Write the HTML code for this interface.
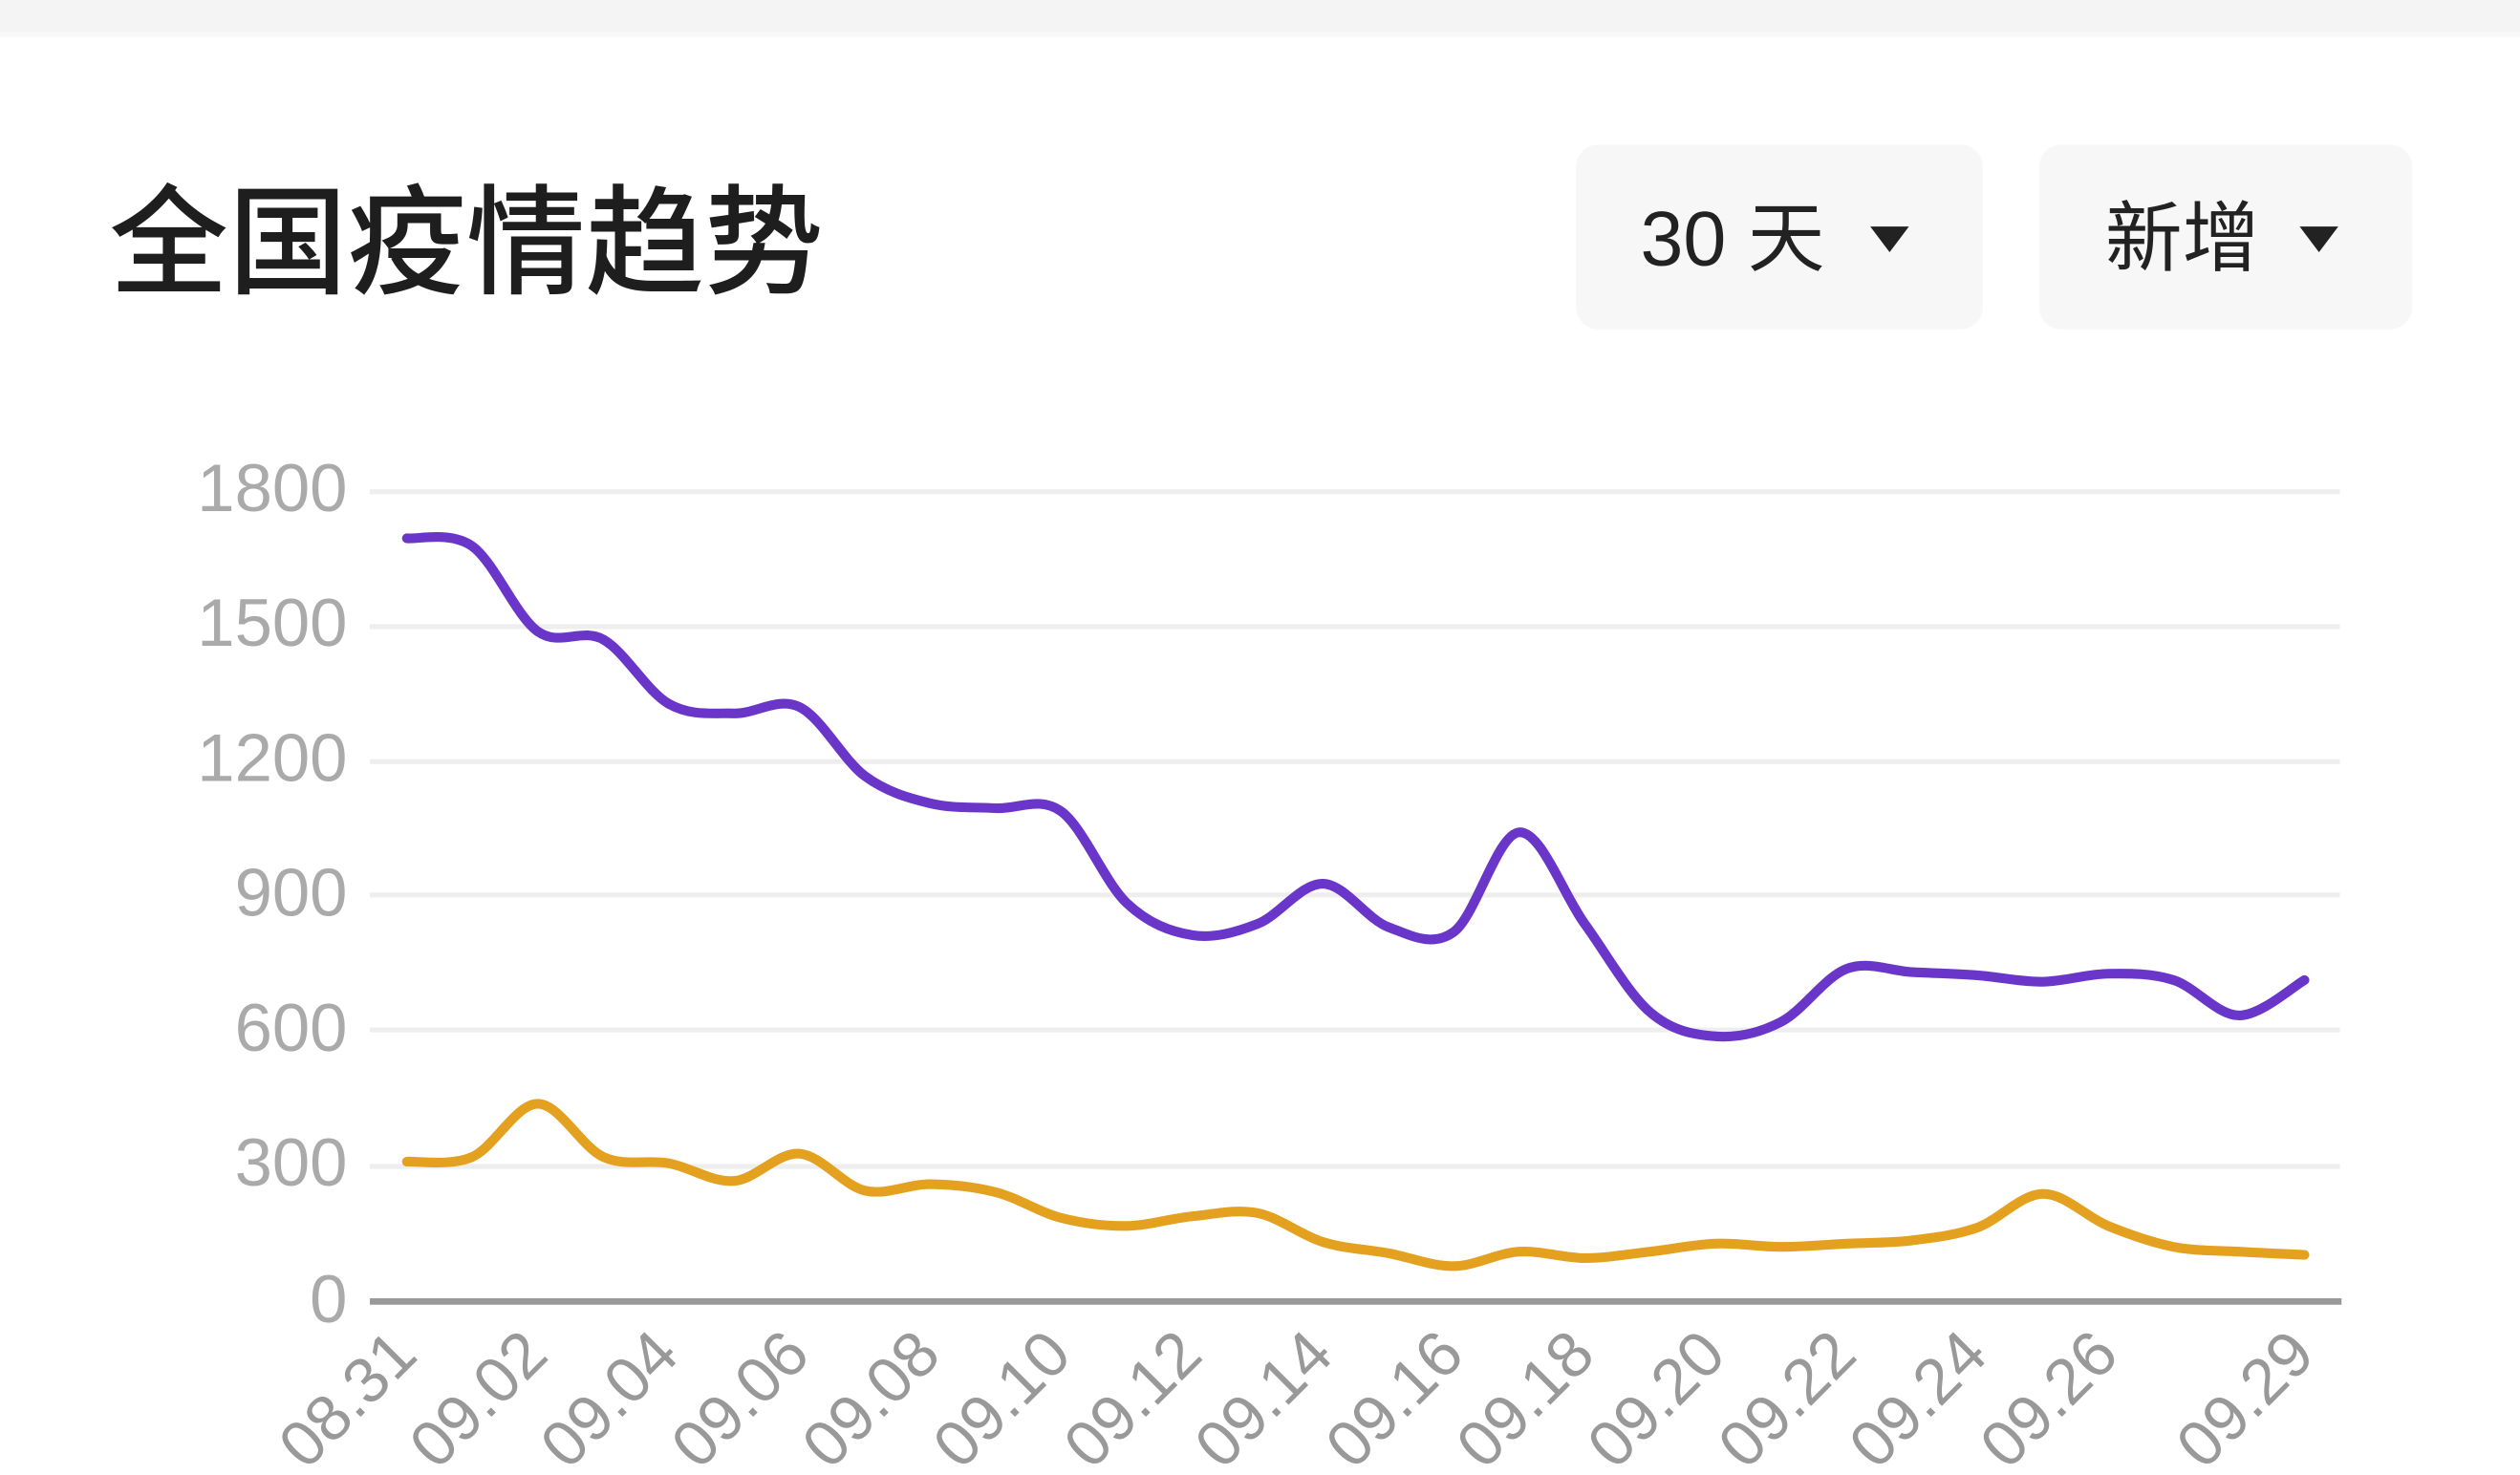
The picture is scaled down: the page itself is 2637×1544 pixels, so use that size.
<!DOCTYPE html>
<html><head><meta charset="utf-8"><style>
html,body{margin:0;padding:0;background:#fff;}
svg{display:block}
</style></head><body>
<svg id="s" width="2637" height="1544" viewBox="0 0 1567 918" preserveAspectRatio="none" xmlns="http://www.w3.org/2000/svg">
<rect x="0" y="0" width="1567" height="918" fill="#fff"/>
<rect x="0" y="0" width="1567" height="20" fill="#f4f4f4"/>
<rect x="0" y="20" width="1567" height="3" fill="#f9f9f9"/>
<text x="68" y="177" font-family="'Liberation Sans','Noto Sans CJK SC',sans-serif" font-size="74" font-weight="500" fill="#1e1e1e">全国疫情趋势</text>
<rect x="980" y="90" width="253" height="115" rx="14" fill="#f7f7f7"/>
<rect x="1268" y="90" width="232" height="115" rx="14" fill="#f7f7f7"/>
<text x="1020" y="165" font-family="'Liberation Sans','Noto Sans CJK SC',sans-serif" font-size="48" fill="#222">30 天</text>
<polygon points="1163,141 1187,141 1175,157" fill="#222"/>
<text x="1309" y="165" font-family="'Liberation Sans','Noto Sans CJK SC',sans-serif" font-size="48" fill="#222">新增</text>
<polygon points="1430,141 1454,141 1442,157" fill="#222"/>
<g stroke="#eeeeee" stroke-width="3">
<line x1="230" y1="306" x2="1455" y2="306"/><line x1="230" y1="390" x2="1455" y2="390"/>
<line x1="230" y1="474" x2="1455" y2="474"/><line x1="230" y1="557" x2="1455" y2="557"/>
<line x1="230" y1="641" x2="1455" y2="641"/><line x1="230" y1="726" x2="1455" y2="726"/>
</g>
<line x1="230" y1="810" x2="1456" y2="810" stroke="#999" stroke-width="4"/>
<g font-family="'Liberation Sans',sans-serif" font-size="42" fill="#aaa" text-anchor="end">
<text x="216" y="318">1800</text><text x="216" y="402">1500</text><text x="216" y="486">1200</text>
<text x="216" y="570">900</text><text x="216" y="654">600</text><text x="216" y="738">300</text>
<text x="216" y="823">0</text>
</g>
<g id="xl" font-family="'Liberation Sans',sans-serif" font-size="40" fill="#999" text-anchor="end"></g>
<path id="p1" fill="none" stroke="#6a35c9" stroke-width="6" stroke-linejoin="round" stroke-linecap="round"/>
<path id="p2" fill="none" stroke="#e3a11f" stroke-width="6" stroke-linejoin="round" stroke-linecap="round"/>
</svg>
<script>
var X=function(i){return 253+40.69*i;};
var a=[335,340,393,398,438,444,440,483,500,503,505,562,582,575,550,577,580,518,575,630,645,636,603,605,607,611,606,610,632,610];
var b=[723,720,687,720,724,735,718,741,737,742,758,763,757,755,773,780,788,779,783,779,774,776,774,772,764,743,763,776,779,781];
function path(v){var p=[];for(var i=0;i<v.length;i++)p.push([X(i),v[i]]);
var d="M"+p[0][0]+","+p[0][1];
for(var i=0;i<p.length-1;i++){var p0=p[Math.max(0,i-1)],p1=p[i],p2=p[i+1],p3=p[Math.min(p.length-1,i+2)];
var c1=[p1[0]+(p2[0]-p0[0])/6,p1[1]+(p2[1]-p0[1])/6],c2=[p2[0]-(p3[0]-p1[0])/6,p2[1]-(p3[1]-p1[1])/6];
d+=" C"+c1[0].toFixed(1)+","+c1[1].toFixed(1)+" "+c2[0].toFixed(1)+","+c2[1].toFixed(1)+" "+p2[0].toFixed(1)+","+p2[1];}
return d;}
document.getElementById("p1").setAttribute("d",path(a));
document.getElementById("p2").setAttribute("d",path(b));
var labs=["08.31","09.02","09.04","09.06","09.08","09.10","09.12","09.14","09.16","09.18","09.20","09.22","09.24","09.26"];
var g=document.getElementById("xl"),ns="http://www.w3.org/2000/svg";
function lab(t,i){var e=document.createElementNS(ns,"text");var x=X(i)+8,y=845;
e.setAttribute("x",x);e.setAttribute("y",y);e.setAttribute("transform","rotate(-45 "+x+" "+y+")");e.textContent=t;g.appendChild(e);}
labs.forEach(function(t,k){lab(t,k*2);});lab("09.29",29);
</script>
</body></html>
